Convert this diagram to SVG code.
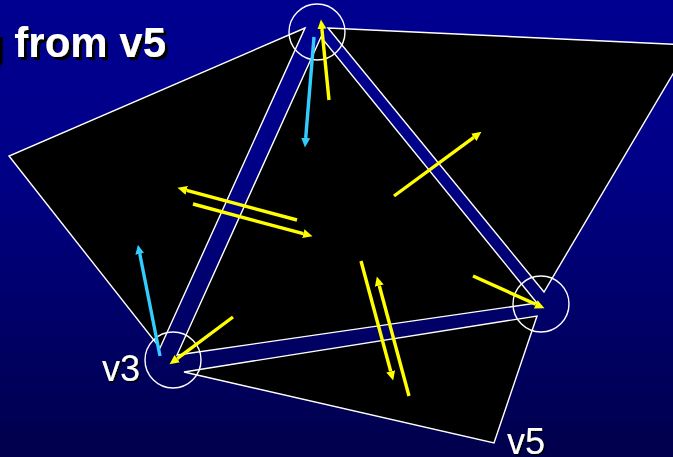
<svg xmlns="http://www.w3.org/2000/svg" width="673" height="457" viewBox="0 0 673 457">
<style>
.f{fill:#000;stroke:#fff;stroke-width:1.4;stroke-linejoin:miter}
.c{fill:none;stroke:#fff;stroke-width:1.4}
.y{stroke:#ffff00;stroke-width:3.4;fill:none;marker-end:url(#ay)}
.b{stroke:#33ccff;stroke-width:3.4;fill:none;marker-end:url(#ab)}
.t{font-family:"Liberation Sans",Arial,sans-serif;fill:#fff}
</style>
<defs>
<linearGradient id="bg" x1="0" y1="0" x2="0" y2="1"><stop offset="0" stop-color="#000090"/><stop offset="0.35" stop-color="#000088"/><stop offset="1" stop-color="#00004c"/></linearGradient>
<marker id="ay" markerUnits="userSpaceOnUse" markerWidth="12" markerHeight="12" refX="0" refY="6" orient="auto"><path d="M0 1.5L9.5 6L0 10.5Z" fill="#ffff00"/></marker>
<marker id="ab" markerUnits="userSpaceOnUse" markerWidth="12" markerHeight="12" refX="0" refY="6" orient="auto"><path d="M0 1.5L9.5 6L0 10.5Z" fill="#33ccff"/></marker>
<filter id="s1" x="-10%" y="-10%" width="125%" height="130%"><feDropShadow dx="3" dy="3" stdDeviation="0.5" flood-color="#000"/></filter>
<filter id="s2" x="-10%" y="-10%" width="125%" height="130%"><feDropShadow dx="1.5" dy="1.5" stdDeviation="0.5" flood-color="#000"/></filter>
</defs>
<rect width="673" height="457" fill="url(#bg)"/>
<g id="face-left"><polygon class="f" points="305,28 9,156 160,348"/></g>
<g id="face-center"><polygon class="f" points="321,37 177,355 537,303"/></g>
<g id="face-right"><polygon class="f" points="328,28 690,45 544,292"/></g>
<g id="face-bottom"><polygon class="f" points="184,372 537,316 494,443"/></g>
<g id="vertex-top"><circle class="c" cx="317" cy="32" r="28"/></g>
<g id="vertex-v3"><circle class="c" cx="173" cy="360" r="28"/><text class="t" x="102" y="381" font-size="36" filter="url(#s2)">v3</text></g>
<g id="vertex-v5"><circle class="c" cx="541" cy="304" r="28"/><text class="t" x="507" y="454" font-size="36" filter="url(#s2)">v5</text></g>
<g id="title"><text class="t" x="-23" y="57" font-size="42" font-weight="bold" filter="url(#s1)">g from v5</text></g>
<g id="connectors">
<line class="b" x1="314" y1="37" x2="305.7" y2="138"/>
<line class="b" x1="160" y1="356" x2="139.8" y2="254"/>
<line class="y" x1="329" y1="100" x2="321.9" y2="29"/>
<line class="y" x1="297" y1="220" x2="186.7" y2="190.3"/>
<line class="y" x1="193" y1="204" x2="303.3" y2="233.7"/>
<line class="y" x1="394" y1="196" x2="473.8" y2="137.3"/>
<line class="y" x1="233" y1="317" x2="177.2" y2="358.6"/>
<line class="y" x1="361" y1="261" x2="390.7" y2="371.3"/>
<line class="y" x1="409" y1="396" x2="379.3" y2="285.7"/>
<line class="y" x1="473" y1="276" x2="535.8" y2="304.3"/>
</g>
</svg>
